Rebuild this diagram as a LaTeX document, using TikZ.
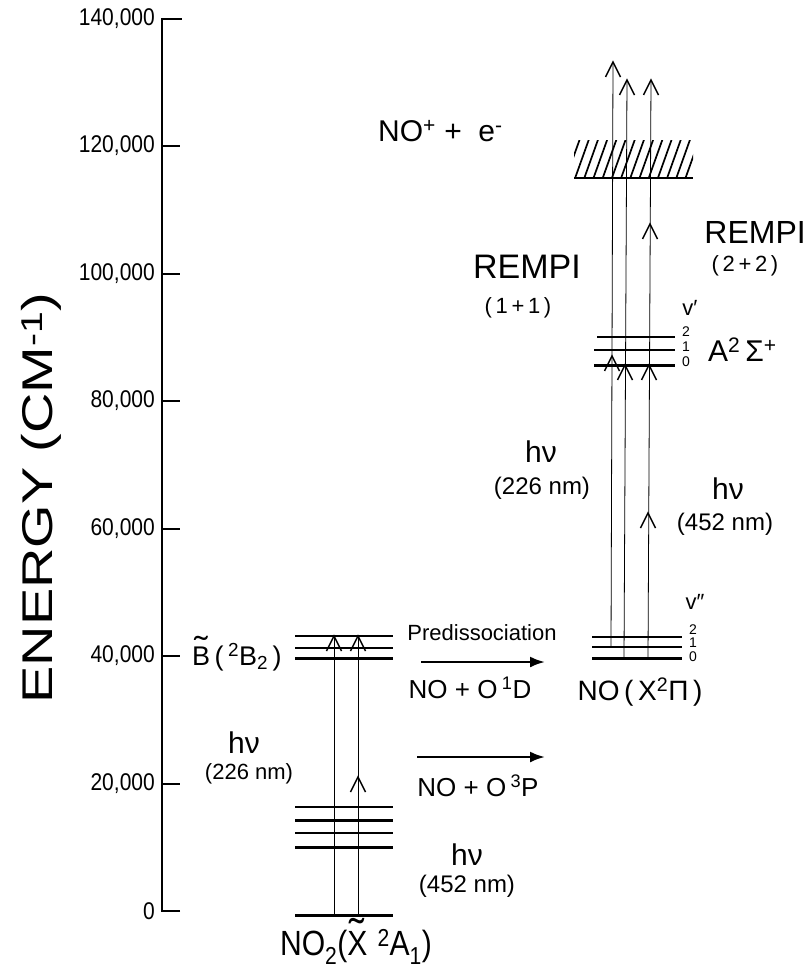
\documentclass[tikz,border=0pt]{standalone}
\usepackage{fontspec}
\setmainfont{Liberation Sans}
\usetikzlibrary{arrows.meta}
\newcommand\fs[1]{\fontsize{#1}{#1}\selectfont}
\newcommand\tl[1]{\ooalign{#1\cr\hidewidth\raisebox{0.22em}{\scalebox{1.5}[1.2]{\char"02DC}}\hidewidth\cr}}
\begin{document}
\begin{tikzpicture}[x=1pt,y=-1pt,
  lvl/.style={line width=1.2pt},
  lvlb/.style={line width=3pt},
  shaft/.style={line width=0.8pt},
  harr/.style={line width=2.4pt,-{Latex[length=15pt,width=11pt]}},
  txt/.style={inner sep=0pt},
  chev/.pic={\draw[line width=1.5pt,line join=miter] (-7.5,15) -- (0,0) -- (7.5,15);}]
\useasboundingbox (0,0) rectangle (809,974);
\fill[white] (0,0) rectangle (809,974);

% axis
\draw[line width=1.3pt] (180,911) -- (162,911) -- (162,19) -- (182,19);
\foreach \yy/\lab in {911/0,784/{20,000},656/{40,000},529/{60,000},401/{80,000},274/{100,000},146/{120,000},19/{140,000}}{
  \draw[line width=1.3pt] (162,\yy) -- (180,\yy);
  \node[txt,anchor=east,font=\fs{21}] at (155,\yy) {\scalebox{1}[1.15]{\lab}};
}
\node[txt,rotate=90,anchor=base] (ylab) at (52,498) {\scalebox{1.3}[1]{\fs{43}ENERGY (CM\textsuperscript{-1})}};

% NO2 X levels
\draw[lvlb] (295,915) -- (393,915);
\draw[lvlb] (295,847) -- (393,847);
\draw[lvl]  (295,833) -- (393,833);
\draw[lvlb] (295,820) -- (393,820);
\draw[lvl]  (295,807) -- (393,807);
% B levels
\draw[lvl]  (295,636) -- (393,636);
\draw[lvl]  (295,648) -- (393,648);
\draw[lvlb] (295,658) -- (393,658);
% NO X levels
\draw[lvl]  (592,637) -- (682,637);
\draw[lvl]  (592,647) -- (682,647);
\draw[lvlb] (592,658) -- (682,658);
% NO A levels
\draw[lvl]  (597,337) -- (675,337);
\draw[lvl]  (594,350) -- (675,350);
\draw[lvlb] (594,365) -- (675,365);

% ionisation continuum
\begin{scope}
\clip (574,140) rectangle (693,178);
\foreach \i in {0,...,16} \draw[line width=1.7pt] ({556+\i*9.2},180) -- ({556+\i*9.2+15},138);
\end{scope}
\draw[line width=2pt] (574,178) -- (693,178);

% NO2 vertical transitions
\coordinate (a1s) at (334,915); \coordinate (a1e) at (334,636);
\coordinate (a2s) at (358,915); \coordinate (a2e) at (358,636);
\draw[shaft] (a1s) -- (a1e);
\draw[shaft] (a2s) -- (a2e);
\pic at (a1e) {chev};
\pic at (a2e) {chev};
\pic at (358,777) {chev};

% NO vertical transitions
\coordinate (n1s) at (611,647); \coordinate (n1e) at (613,62);
\coordinate (n2s) at (624,658); \coordinate (n2e) at (627,80);
\coordinate (n3s) at (648,658); \coordinate (n3e) at (651,80);
\draw[shaft] (n1s) -- (n1e);
\draw[shaft] (n2s) -- (n2e);
\draw[shaft] (n3s) -- (n3e);
\pic at (n1e) {chev};
\pic at (n2e) {chev};
\pic at (n3e) {chev};
\pic at (612,356) {chev};
\pic at (625,365) {chev};
\pic at (649,365) {chev};
\pic at (648,513) {chev};
\pic at (650,224) {chev};

% horizontal arrows
\coordinate (p1s) at (421,662); \coordinate (p1e) at (545,662);
\coordinate (p2s) at (417,757); \coordinate (p2e) at (545,757);
\draw[harr] (p1s) -- (p1e);
\draw[harr] (p2s) -- (p2e);

% texts
\node[txt,font=\fs{22}] (pred) at (482,633) {Predissociation};
\node[txt,font=\fs{26}] (o1d) at (470,688) {NO + O\,\textsuperscript{1}D};
\node[txt,font=\fs{26}] (o3p) at (478,786) {NO + O\,\textsuperscript{3}P};
\node[txt,font=\fs{27},anchor=west] (bst) at (192,657) {\tl{B}\,(\,\textsuperscript{2}B\textsubscript{2}\,)};
\node[txt,font=\fs{30}] (hv1) at (244,743) {hν};
\node[txt,font=\fs{22}] (w1) at (249,774) {(226 nm)};
\node[txt,font=\fs{30}] (hv2) at (467,855) {hν};
\node[txt,font=\fs{24}] (w2) at (467,886) {(452 nm)};
\node[txt,font=\fs{35}] (no2) at (356,947) {\scalebox{0.86}[1]{NO\textsubscript{2}(\tl{X}\,\,\textsuperscript{2}A\textsubscript{1})}};
\node[txt,font=\fs{30}] (hv3) at (541,452) {hν};
\node[txt,font=\fs{24}] (w3) at (542,488) {(226 nm)};
\node[txt,font=\fs{30}] (hv4) at (728,489) {hν};
\node[txt,font=\fs{24}] (w4) at (725,524) {(452 nm)};
\node[txt,font=\fs{34}] (r1) at (527,267) {REMPI};
\node[txt,font=\fs{22}] (r1b) at (518,308) {(\,1\,+\,1\,)};
\node[txt,font=\fs{32},anchor=east] (r2) at (806,232) {REMPI};
\node[txt,font=\fs{22}] (r2b) at (745,266) {(\,2\,+\,2\,)};
\node[txt,font=\fs{30},anchor=west] (ion) at (378,131) {NO\textsuperscript{+} +\hspace{0.55em}e\textsuperscript{-}};
\node[txt,font=\fs{30},anchor=west] (ast) at (708,350) {A\textsuperscript{2}\,Σ\textsuperscript{+}};
\node[txt,font=\fs{28}] (xst) at (640,692) {NO\,(\,X\textsuperscript{2}Π\,)};
% vibrational labels
\node[txt,font=\fs{22}] (vp) at (690,308) {v′};
\node[txt,font=\fs{14}] at (686,332) {2};
\node[txt,font=\fs{14}] at (686,347) {1};
\node[txt,font=\fs{14}] at (686,362) {0};
\node[txt,font=\fs{22}] (vpp) at (695,602) {v″};
\node[txt,font=\fs{14}] at (693,630) {2};
\node[txt,font=\fs{14}] at (693,643) {1};
\node[txt,font=\fs{14}] at (693,657) {0};
\end{tikzpicture}
\end{document}
